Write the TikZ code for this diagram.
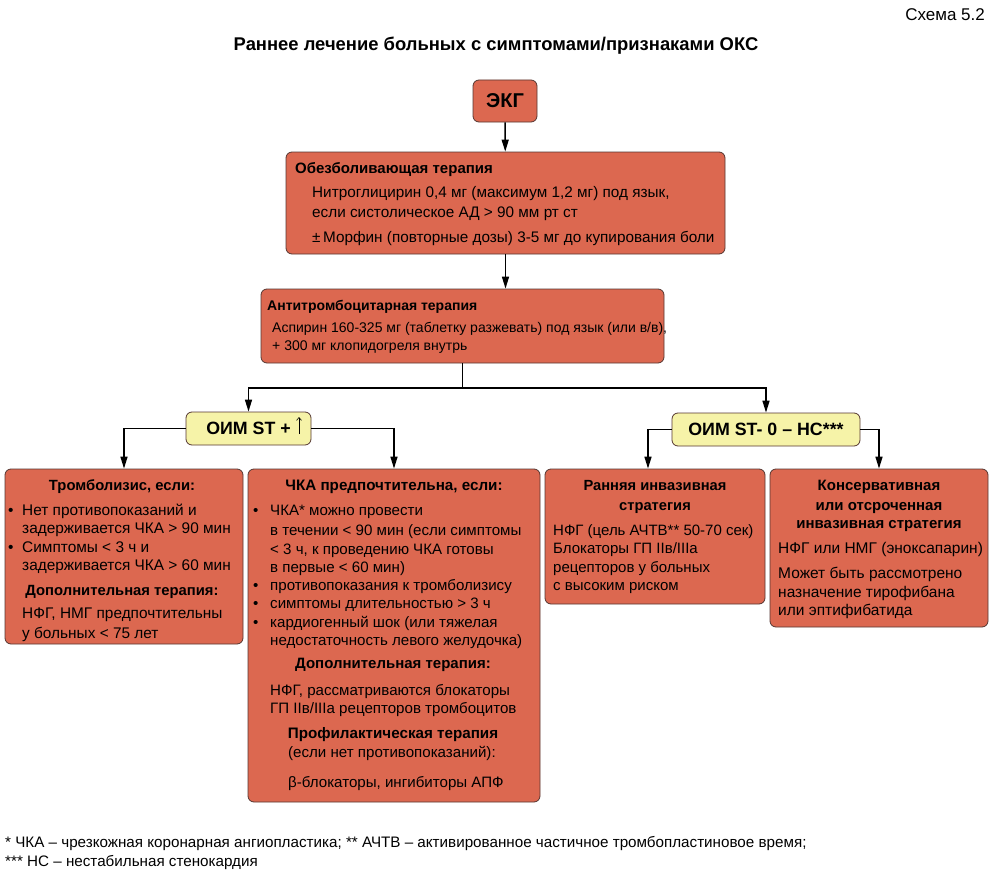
\documentclass[tikz,border=0pt]{standalone}
\usepackage{fontspec}
\setmainfont{Liberation Sans}
\usetikzlibrary{arrows.meta}
\definecolor{boxfill}{RGB}{220,104,80}
\definecolor{yfill}{RGB}{246,243,168}
\definecolor{edge}{RGB}{85,55,50}
\tikzset{
  obox/.style={draw=edge, fill=boxfill, rounded corners=6pt, line width=0.8pt, inner sep=0pt},
  ybox/.style={draw=edge, fill=yfill, rounded corners=6pt, line width=0.8pt, inner sep=0pt,
    font=\fontsize{17.8}{19}\selectfont\bfseries},
  arr/.style={line width=1.5pt, -{Triangle[length=12pt,width=7pt]}},
  ln/.style={line width=1.5pt},
  thinarr/.style={line width=0.6pt, -{Straight Barb[length=3pt,width=5pt]}},
  tx/.style={anchor=base west, inner sep=0pt, font=\fontsize{#1}{#1}\selectfont},
  tx/.default=15.3,
  hd/.style={anchor=base west, inner sep=0pt, font=\fontsize{#1}{#1}\selectfont\bfseries},
  hd/.default=15,
  hc/.style={anchor=base, inner sep=0pt, font=\fontsize{#1}{#1}\selectfont\bfseries},
  hc/.default=15,
}
\begin{document}
\begin{tikzpicture}[x=1pt,y=-1pt]
\useasboundingbox (0,0) rectangle (994,875);
% title
\node[anchor=base east, inner sep=0pt, font=\fontsize{17}{19}\selectfont] (scheme) at (985,21) {Схема 5.2};
\node[anchor=base, inner sep=0pt, font=\fontsize{18.4}{20}\selectfont\bfseries] (title) at (496,51) {Раннее лечение больных с симптомами/признаками ОКС};
% boxes
\node[obox, minimum width=64pt, minimum height=42pt, font=\fontsize{20}{22}\selectfont\bfseries] (ekg) at (505,101) {ЭКГ};
\node[obox, minimum width=439pt, minimum height=102pt] (obez) at (505.5,203) {};
\node[obox, minimum width=403pt, minimum height=74pt] (anti) at (462.5,326) {};
\node[ybox, minimum width=125pt, minimum height=33pt] (oimplus) at (248.5,428.5) {ОИМ ST +\hspace{13pt}};
\node[ybox, minimum width=188pt, minimum height=33pt] (oimminus) at (766,429.5) {ОИМ ST- 0 – НС***};
\node[obox, minimum width=238pt, minimum height=175pt] (tromb) at (124,556.5) {};
\node[obox, minimum width=292pt, minimum height=333pt] (pci) at (394,635.5) {};
\node[obox, minimum width=220pt, minimum height=135pt] (early) at (655,536.5) {};
\node[obox, minimum width=218pt, minimum height=158pt] (cons) at (879,548) {};
% the thin up arrow inside "ОИМ ST +"
\coordinate (upA) at (299,434);
\coordinate (upB) at (299,417);
\draw[thinarr] (upA) -- (upB);
% connectors
\draw[arr] (ekg) -- (obez);
\draw[arr] (obez.south) -- (obez.south |- anti.north);
\coordinate (split) at (462.5,388);
\draw[ln] (anti.south) -- (split);
\draw[arr] (split) -| (oimplus.north);
\draw[arr] (split) -| (oimminus.north);
\draw[arr] (oimplus.west) -| (tromb.north);
\draw[arr] (oimplus.east) -| (pci.north);
\draw[arr] (oimminus.west) -| ([xshift=-7pt]early.north);
\draw[arr] (oimminus.east) -| (cons.north);
% obez text
\node[hd] (o1) at (295,173) {Обезболивающая терапия};
\node[tx] (o2) at (312,197) {Нитроглицирин 0,4 мг (максимум 1,2 мг) под язык,};
\node[tx] (o3) at (312,217) {если систолическое АД > 90 мм рт ст};
\node[tx] (o4) at (312,242) {±\,Морфин (повторные дозы) 3-5 мг до купирования боли};
% anti text
\node[hd=14] (a1) at (267,310) {Антитромбоцитарная терапия};
\node[tx=14] (a2) at (272,332) {Аспирин 160-325 мг (таблетку разжевать) под язык (или в/в),};
\node[tx=14] (a3) at (272,350) {+ 300 мг клопидогреля внутрь};
% tromb text
\node[hc=14.8] (t1) at (122,490) {Тромболизис, если:};
\node[tx=15.4] (tb1) at (8,515) {•};
\node[tx=15.4] (t2) at (22,515) {Нет противопоказаний и};
\node[tx=15.4] (t3) at (22,533) {задерживается ЧКА > 90 мин};
\node[tx=15.4] (tb2) at (8,552) {•};
\node[tx=15.4] (t4) at (22,552) {Симптомы < 3 ч и};
\node[tx=15.4] (t5) at (22,570) {задерживается ЧКА > 60 мин};
\node[hc=14.8] (t6) at (122,595) {Дополнительная терапия:};
\node[tx=15.4] (t7) at (22,618) {НФГ, НМГ предпочтительны};
\node[tx=15.4] (t8) at (22,638) {у больных < 75 лет};
% pci text
\node[hc=15.2] (p1) at (394,490) {ЧКА предпочтительна, если:};
\node[tx=15.1] (pb1) at (253,515) {•};
\node[tx=15.1] (p2) at (270,515) {ЧКА* можно провести};
\node[tx=15.1] (p3) at (270,535) {в течении < 90 мин (если симптомы};
\node[tx=15.1] (p4) at (270,554) {< 3 ч, к проведению ЧКА готовы};
\node[tx=15.1] (p5) at (270,572) {в первые < 60 мин)};
\node[tx=15.1] (pb2) at (253,590) {•};
\node[tx=15.1] (p6) at (270,590) {противопоказания к тромболизису};
\node[tx=15.1] (pb3) at (253,608) {•};
\node[tx=15.1] (p7) at (270,608) {симптомы длительностью > 3 ч};
\node[tx=15.1] (pb4) at (253,627) {•};
\node[tx=15.1] (p8) at (270,627) {кардиогенный шок (или тяжелая};
\node[tx=15.1] (p9) at (270,645) {недостаточность левого желудочка)};
\node[hc=15] (p10) at (393,668) {Дополнительная терапия:};
\node[tx=15.1] (p11) at (270,695) {НФГ, рассматриваются блокаторы};
\node[tx=15.1] (p12) at (270,713) {ГП IIв/IIIа рецепторов тромбоцитов};
\node[hc=15.2] (p13) at (393,738) {Профилактическая терапия};
\node[tx=15.1] (p14) at (288,757) {(если нет противопоказаний):};
\node[tx=15.1] (p15) at (288,787) {β-блокаторы, ингибиторы АПФ};
% early text
\node[hc=14.7] (e1) at (655,490) {Ранняя инвазивная};
\node[hc=14.7] (e2) at (655,510) {стратегия};
\node[tx=15] (e3) at (553,535) {НФГ (цель АЧТВ** 50-70 сек)};
\node[tx=15] (e4) at (553,553) {Блокаторы ГП IIв/IIIа};
\node[tx=15] (e5) at (553,572) {рецепторов у больных};
\node[tx=15] (e6) at (553,590) {с высоким риском};
% cons text
\node[hc=15] (c1) at (879,490) {Консервативная};
\node[hc=15] (c2) at (879,510) {или отсроченная};
\node[hc=15] (c3) at (879,528) {инвазивная стратегия};
\node[tx=15.5] (c4) at (778,553) {НФГ или НМГ (эноксапарин)};
\node[tx=15.5] (c5) at (778,578) {Может быть рассмотрено};
\node[tx=15.5] (c6) at (778,597) {назначение тирофибана};
\node[tx=15.5] (c7) at (778,615) {или эптифибатида};
% footnotes
\node[tx=15.2] (f1) at (5,847) {* ЧКА – чрезкожная коронарная ангиопластика; ** АЧТВ – активированное частичное тромбопластиновое время;};
\node[tx=15.2] (f2) at (5,866) {*** НС – нестабильная стенокардия};
\end{tikzpicture}
\end{document}
